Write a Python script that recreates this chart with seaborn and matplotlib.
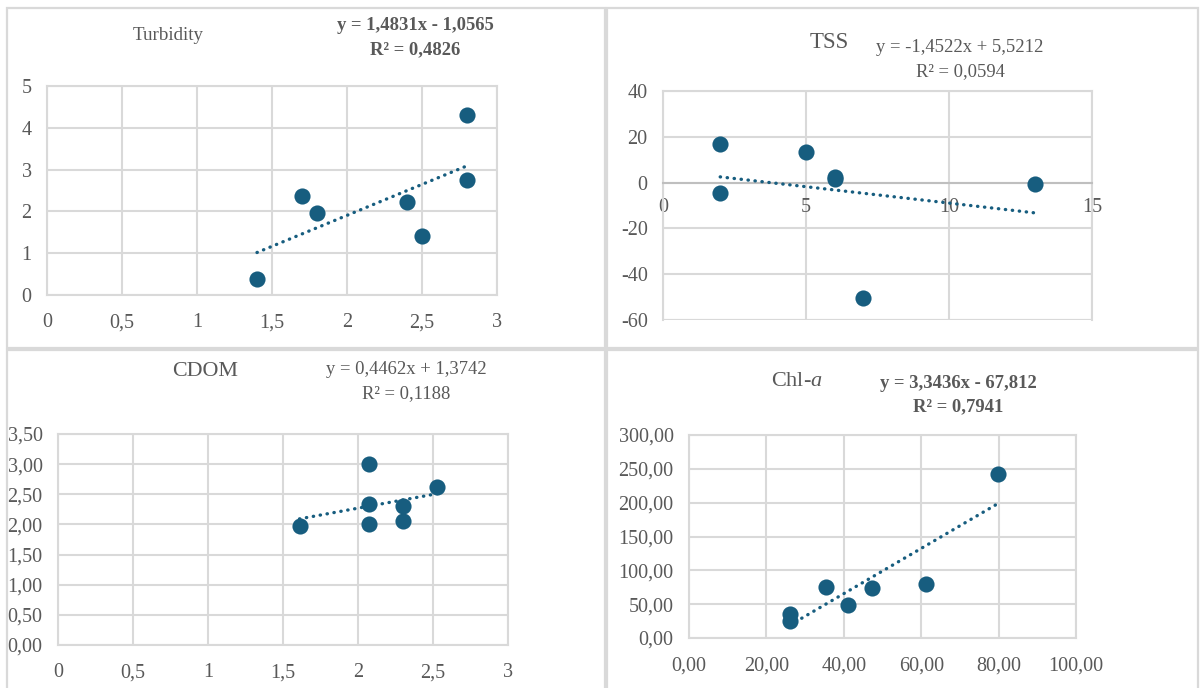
import numpy as np
import pandas as pd
import matplotlib
matplotlib.use("Agg")
import matplotlib.pyplot as plt
import seaborn as sns
from matplotlib.ticker import FuncFormatter, MultipleLocator
from matplotlib.patches import Rectangle

# ---------------- data ----------------
turb_x = [1.4, 1.7, 1.8, 2.4, 2.5, 2.8, 2.8]
turb_y = [0.39, 2.38, 1.95, 2.23, 1.42, 4.30, 2.74]

tss_x = [2, 2, 5, 6, 6, 7, 13]
tss_y = [16.7, -4.4, 13.2, 2.3, 1.7, -50.2, -0.4]

cdom_x = [1.61, 2.07, 2.07, 2.07, 2.30, 2.30, 2.53]
cdom_y = [1.98, 3.01, 2.34, 2.00, 2.31, 2.06, 2.62]

chl_x = [26.0, 26.0, 35.3, 41.2, 47.2, 61.2, 79.8]
chl_y = [24.6, 35.4, 75.6, 49.0, 74.0, 80.0, 243.0]

titles = ["Turbidity", "TSS", "CDOM", r"Chl-$\mathit{a}$"]
eq_line1 = ["y = 1,4831x - 1,0565", "y = -1,4522x + 5,5212",
            "y = 0,4462x + 1,3742", "y = 3,3436x - 67,812"]
eq_line2 = ["R² = 0,4826", "R² = 0,0594", "R² = 0,1188", "R² = 0,7941"]
eq_bold = [True, False, False, True]

# ---------------- style ----------------
W, H = 1200, 688
C = "#175d7f"
GRID = "#d9d9d9"
TXT = "#595959"

sns.set_style("white")
plt.rcParams["font.family"] = ["Liberation Serif", "DejaVu Serif"]
plt.rcParams["mathtext.fontset"] = "custom"
plt.rcParams["mathtext.rm"] = "Liberation Serif"
plt.rcParams["mathtext.it"] = "Liberation Serif:italic"

fig = plt.figure(figsize=(W / 100, H / 100), dpi=100)
fig.patch.set_facecolor("white")

# panel frames
for (x0, y0, x1, y1) in [(7, 8, 605, 348), (607, 8, 1198, 348),
                         (7, 350, 605, 700), (607, 350, 1198, 700)]:
    fig.add_artist(Rectangle((x0 / W, 1 - y1 / H), (x1 - x0) / W, (y1 - y0) / H,
                             transform=fig.transFigure, fill=False,
                             ec=GRID, lw=1.6))


def px_axes(l, t, r, b):
    return fig.add_axes([l / W, 1 - b / H, (r - l) / W, (b - t) / H])


def gen(v, p):
    s = ("%.6f" % v).rstrip("0").rstrip(".")
    if s == "-0":
        s = "0"
    return s.replace(".", ",")


def two(v, p):
    return ("%.2f" % v).replace(".", ",")


def style(ax, xlim, xstep, ylim, ystep, xfmt, yfmt):
    ax.set_xlim(xlim)
    ax.set_ylim(ylim)
    ax.xaxis.set_major_locator(MultipleLocator(xstep))
    ax.yaxis.set_major_locator(MultipleLocator(ystep))
    ax.xaxis.set_major_formatter(FuncFormatter(xfmt))
    ax.yaxis.set_major_formatter(FuncFormatter(yfmt))
    ax.grid(True, color=GRID, lw=1.5)
    ax.set_axisbelow(True)
    for s in ax.spines.values():
        s.set_color(GRID)
        s.set_linewidth(1.5)
    ax.tick_params(axis="both", length=0, labelsize=14.5, labelcolor=TXT)
    ax.tick_params(axis="x", pad=13)
    ax.tick_params(axis="y", pad=11)
    ax.set_xlabel("")
    ax.set_ylabel("")


def draw(ax, xs, ys):
    df = pd.DataFrame({"x": xs, "y": ys})
    sns.scatterplot(data=df, x="x", y="y", ax=ax, s=135, color=C,
                    edgecolor=C, linewidth=0, zorder=3, clip_on=False)
    sns.regplot(data=df, x="x", y="y", ax=ax, scatter=False, ci=None,
                truncate=True, color=C,
                line_kws=dict(ls=(0, (0.1, 2.0)), lw=2.4,
                              dash_capstyle="round", zorder=4))


# Turbidity
ax1 = px_axes(47, 86, 497, 295)
draw(ax1, turb_x, turb_y)
style(ax1, (0, 3), 0.5, (0, 5), 1, gen, gen)

# TSS
ax2 = px_axes(663, 91, 1092, 320)
draw(ax2, tss_x, tss_y)
style(ax2, (0, 15), 5, (-60, 40), 20, gen, gen)
ax2.spines["bottom"].set_position(("data", 0))
ax2.spines["bottom"].set_color("#bfbfbf")
ax2.tick_params(axis="x", pad=11)
ax2.axhline(-60, color=GRID, lw=1.5, zorder=0.5)

# CDOM
ax3 = px_axes(58, 434, 508, 645)
draw(ax3, cdom_x, cdom_y)
style(ax3, (0, 3), 0.5, (0, 3.5), 0.5, gen, two)

# Chl-a
ax4 = px_axes(689, 435, 1076, 638)
draw(ax4, chl_x, chl_y)
style(ax4, (0, 100), 20, (0, 300), 50, two, two)

# titles and equations
title_pos = [(168, 36, 13.7), (829, 42, 16.5), (205, 372, 15.8), (797, 382, 16)]
eq_pos = [(415, 25, 50), (960, 48, 72), (406, 370, 394), (958, 383, 407)]
for i in range(4):
    tx, ty, ts = title_pos[i]
    fig.text(tx / W, 1 - ty / H, titles[i], ha="center", va="center",
             fontsize=ts, color=TXT)
    ex, e1, e2 = eq_pos[i]
    fw = "bold" if eq_bold[i] else "normal"
    fig.text(ex / W, 1 - e1 / H, eq_line1[i], ha="center", va="center",
             fontsize=13.4, color=TXT, fontweight=fw)
    fig.text(ex / W, 1 - e2 / H, eq_line2[i], ha="center", va="center",
             fontsize=13.4, color=TXT, fontweight=fw)

fig.savefig("out.png", dpi=100, facecolor="white")
